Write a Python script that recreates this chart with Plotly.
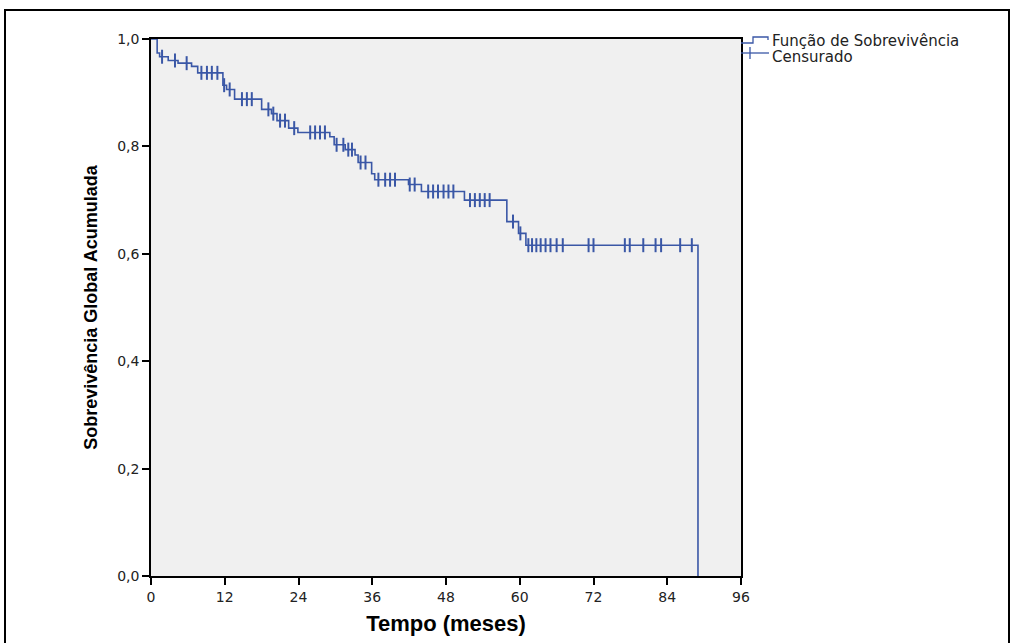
import numpy as np
import plotly.graph_objects as go

# Kaplan-Meier step points (time in months, cumulative survival after the step)
event_times = [1.0, 1.4, 2.8, 4.4, 6.6, 7.6, 11.7, 12.3, 13.6, 18.0, 19.6, 20.5,
               22.4, 23.9, 29.1, 29.8, 31.6, 33.2, 33.7, 35.9, 36.4, 41.9, 44.0,
               51.0, 57.9, 59.8, 61.0, 89.0]
event_surv = [0.974, 0.967, 0.960, 0.955, 0.949, 0.937, 0.914, 0.906, 0.888,
              0.869, 0.861, 0.848, 0.834, 0.826, 0.818, 0.803, 0.794, 0.784,
              0.770, 0.749, 0.738, 0.729, 0.716, 0.700, 0.660, 0.638, 0.616, 0.0]

# Censored observations (time in months)
censor_times = [1.8, 3.9, 5.8, 8.2, 9.1, 9.9, 10.8, 11.9, 12.8, 14.8, 15.6, 16.4,
                19.1, 19.9, 21.0, 21.8, 23.3, 25.9, 26.7, 27.5, 28.3, 30.2, 31.3,
                32.1, 32.7, 34.1, 34.9, 37.0, 38.1, 38.9, 39.7, 42.1, 42.9, 45.1,
                45.9, 46.7, 47.6, 48.4, 49.2, 51.9, 52.7, 53.5, 54.3, 55.1, 58.9,
                60.1, 61.4, 62.0, 62.7, 63.4, 64.2, 65.0, 66.0, 67.0, 71.2, 72.0,
                77.1, 77.9, 80.1, 82.1, 83.0, 86.1, 88.0]

x_ticks = [0, 12, 24, 36, 48, 60, 72, 84, 96]
y_ticks = [0.0, 0.2, 0.4, 0.6, 0.8, 1.0]

legend_labels = ["Função de Sobrevivência", "Censurado"]
x_title = "Tempo (meses)"
y_title = "Sobrevivência Global Acumulada"

LINE = "#3A57A6"

step_x = np.array([0.0] + event_times)
step_y = np.array([1.0] + event_surv)
idx = np.searchsorted(step_x, np.array(censor_times), side="right") - 1
censor_y = step_y[idx]

fig = go.Figure()
fig.add_trace(go.Scatter(x=step_x, y=step_y, mode="lines", line=dict(shape="hv", color=LINE, width=1.6),
                         showlegend=False, hoverinfo="skip"))
fig.add_trace(go.Scatter(x=censor_times, y=censor_y, mode="markers",
                         marker=dict(symbol="line-ns", size=10, line=dict(color=LINE, width=2)),
                         showlegend=False, hoverinfo="skip"))

# plot area in pixels: x 151..741, y 39..576
L, R, T, B = 151, 741, 39, 576
def px(v):
    return (v - L) / (R - L)
def py(v):
    return (B - v) / (B - T)

shapes = [
    dict(type="rect", xref="paper", yref="paper", x0=px(5), x1=px(1009), y0=py(662), y1=py(10),
         line=dict(color="black", width=2), fillcolor="rgba(0,0,0,0)", layer="below"),
    dict(type="path", xref="paper", yref="paper",
         path=f"M{px(741)},{py(43)} L{px(753)},{py(43)} L{px(753)},{py(37)} L{px(768)},{py(37)} L{px(768)},{py(40)}",
         line=dict(color=LINE, width=1.3)),
    dict(type="line", xref="paper", yref="paper", x0=px(741), x1=px(769), y0=py(53), y1=py(53),
         line=dict(color=LINE, width=1.3)),
    dict(type="line", xref="paper", yref="paper", x0=px(750), x1=px(750), y0=py(47), y1=py(59),
         line=dict(color=LINE, width=1.3)),
]

leg_font = dict(family="DejaVu Sans", size=15, color="#222")
annotations = [
    dict(text=legend_labels[0], xref="paper", yref="paper", x=px(770), y=py(41), xanchor="left",
         yanchor="middle", showarrow=False, font=leg_font),
    dict(text=legend_labels[1], xref="paper", yref="paper", x=px(770), y=py(57), xanchor="left",
         yanchor="middle", showarrow=False, font=leg_font),
]

xtitle_font = dict(family="Liberation Sans Narrow, Arial Narrow, Liberation Sans", size=22, color="black", weight="bold")
ytitle_font = dict(family="Liberation Sans Narrow, Arial Narrow, Liberation Sans", size=18, color="black", weight="bold")
tick_font = dict(family="DejaVu Sans", size=14, color="#222")

fig.update_layout(
    width=1013, height=643,
    margin=dict(l=L, r=1013 - R, t=T, b=643 - B, autoexpand=False),
    paper_bgcolor="white", plot_bgcolor="#F0F0F0",
    separators=",.",
    shapes=shapes, annotations=annotations,
    showlegend=False,
    xaxis=dict(range=[0, 96], tickvals=x_ticks, ticks="outside", ticklen=7, tickwidth=1.5, tickcolor="black",
               showline=True, linecolor="black", linewidth=1.5, mirror=True, showgrid=False, zeroline=False,
               tickfont=tick_font, title=dict(text=x_title, font=xtitle_font, standoff=12)),
    yaxis=dict(range=[0, 1], tickvals=y_ticks, tickformat=".1f", ticks="outside", ticklen=7, tickwidth=1.5,
               tickcolor="black", showline=True, linecolor="black", linewidth=1.5, mirror=True, showgrid=False,
               zeroline=False, tickfont=tick_font, title=dict(text=y_title, font=ytitle_font, standoff=15)),
)

fig.write_html("out.html")
